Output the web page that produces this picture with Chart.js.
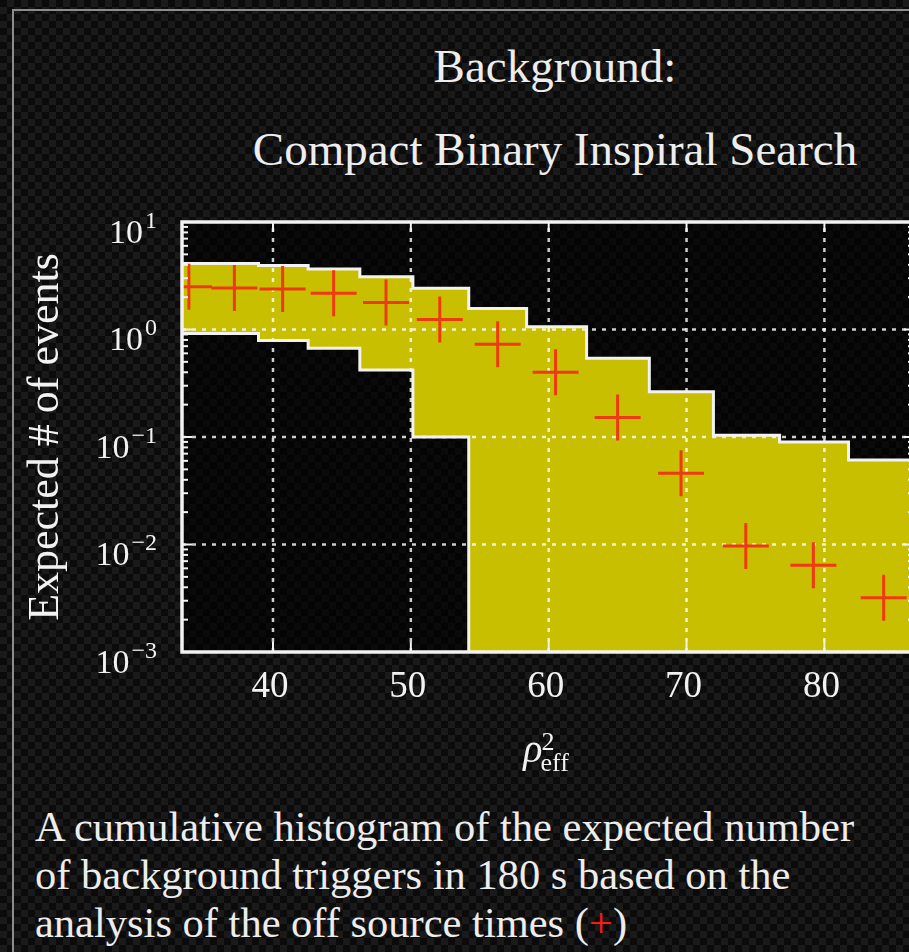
<!DOCTYPE html>
<html>
<head>
<meta charset="utf-8">
<title>Background: Compact Binary Inspiral Search</title>
<script src="https://cdn.jsdelivr.net/npm/chart.js@4.4.1/dist/chart.umd.min.js"></script>
<style>
  html, body { margin: 0; padding: 0; }
  body {
    width: 909px; height: 952px; overflow: hidden; position: relative;
    background-color: #0e0e0e;
    background-image: repeating-conic-gradient(#1a1a1a 0 25%, #0b0b0b 0 50%);
    background-size: 14px 14px;
    font-family: 'Liberation Serif', 'Times New Roman', serif;
    color: #ededed;
  }
  .frame { position: absolute; left: 12px; top: 9px; right: -20px; bottom: -20px; border: 2px solid #8c8c8c; }
  .head { position: absolute; left: 555px; transform: translateX(-50%); white-space: nowrap; font-size: 47px; line-height: 47px; }
  #h1 { top: 43px; }
  #h2 { top: 126px; }
  .caption { position: absolute; left: 35px; top: 803px; font-size: 42.5px; line-height: 48px; white-space: nowrap; }
  .caption .plus { color: #ff1a1a; }
  #wrap { position: absolute; left: 0; top: 0; width: 940px; height: 800px; }
</style>
</head>
<body>
<div class="frame"></div>
<div class="head" id="h1">Background:</div>
<div class="head" id="h2">Compact Binary Inspiral Search</div>
<div id="wrap"><canvas id="chart" width="940" height="800"></canvas></div>
<div class="caption">A cumulative histogram of the expected number<br>of background triggers in 180 s based on the<br>analysis of the off source times (<span class="plus">+</span>)</div>
<script>
// Bin centres in rho_eff^2 and the expected number of background events per bin
const binCentres     = [33.9, 37.2, 40.7, 44.4, 48.2, 52.1, 56.3, 60.5, 65.0, 69.6, 74.3, 79.2, 84.3];
const expectedEvents = [2.50, 2.43, 2.38, 2.17, 1.78, 1.24, 0.73, 0.40, 0.152, 0.046, 0.0097, 0.0064, 0.0032];
// Upper and lower edges of the shaded band (0 = no lower bound)
const bandUpper = [4.11, 4.11, 3.94, 3.66, 3.10, 2.42, 1.57, 1.06, 0.54, 0.264, 0.104, 0.090, 0.061];
const bandLower = [0.92, 0.92, 0.79, 0.67, 0.42, 0.10, 0, 0, 0, 0, 0, 0, 0];
// Axis ticks
const xTickValues = [40, 50, 60, 70, 80];
const yTickValues = [1e-3, 1e-2, 1e-1, 1, 10];
const yTickBase = '10';
const yTickExponents = ['\u22123', '\u22122', '\u22121', '0', '1'];

const X_MIN = 33.4, X_MAX = 86.5, Y_MIN = 1e-3, Y_MAX = 10;
const FLOOR = 1e-6; // stands in for zero on the log axis (below the visible range)

const WHITE = '#f2f2f2';
const SERIF = "'Liberation Serif', 'Times New Roman', serif";

function binEdges(c) {
  const e = [c[0] - (c[1] - c[0]) / 2];
  for (let i = 1; i < c.length; i++) e.push((c[i - 1] + c[i]) / 2);
  const n = c.length;
  e.push(c[n - 1] + (c[n - 1] - c[n - 2]) / 2);
  return e;
}

function stepPoints(values) {
  const e = binEdges(binCentres);
  const pts = values.map((v, i) => ({ x: e[i], y: v > 0 ? v : FLOOR }));
  pts.push({ x: e[e.length - 1], y: pts[pts.length - 1].y });
  return pts;
}

const plotDecor = {
  id: 'plotDecor',
  beforeDraw(chart) {
    const { ctx, chartArea: a } = chart;
    ctx.save();
    ctx.fillStyle = 'rgba(0,0,0,0.6)';
    ctx.fillRect(a.left, a.top, a.right - a.left, a.bottom - a.top);
    ctx.restore();
  },
  beforeDatasetsDraw(chart) {
    // dotted grid, laid over the shaded band
    const { ctx, chartArea: a, scales: { x, y } } = chart;
    ctx.save();
    ctx.beginPath();
    ctx.rect(a.left, a.top, a.right - a.left, a.bottom - a.top);
    ctx.clip();
    ctx.strokeStyle = 'rgba(255,255,255,0.8)';
    ctx.lineWidth = 2.5;
    ctx.setLineDash([4, 6]);
    xTickValues.forEach(v => {
      const px = x.getPixelForValue(v);
      ctx.beginPath(); ctx.moveTo(px, a.bottom); ctx.lineTo(px, a.top); ctx.stroke();
    });
    yTickValues.forEach(v => {
      if (v <= Y_MIN || v >= Y_MAX) return;
      const py = y.getPixelForValue(v);
      ctx.beginPath(); ctx.moveTo(a.left, py); ctx.lineTo(a.right, py); ctx.stroke();
    });
    ctx.restore();
  },
  afterDatasetsDraw(chart) {
    const { ctx, chartArea: a, scales: { x, y } } = chart;
    ctx.save();
    ctx.strokeStyle = WHITE;
    // tick marks pointing into the plot
    ctx.lineWidth = 2;
    const tick = (x0, y0, x1, y1) => { ctx.beginPath(); ctx.moveTo(x0, y0); ctx.lineTo(x1, y1); ctx.stroke(); };
    xTickValues.forEach(v => {
      const px = x.getPixelForValue(v);
      tick(px, a.bottom, px, a.bottom - 10);
      tick(px, a.top, px, a.top + 10);
    });
    for (let k = -3; k <= 0; k++) {
      for (let m = 1; m <= 9; m++) {
        const v = m * Math.pow(10, k);
        const py = y.getPixelForValue(v);
        const len = m === 1 ? 10 : 6;
        tick(a.left, py, a.left + len, py);
        tick(a.right, py, a.right - len, py);
      }
    }
    // plot frame
    ctx.lineWidth = 3.5;
    ctx.beginPath();
    ctx.moveTo(a.right, a.top); ctx.lineTo(a.left, a.top);
    ctx.lineTo(a.left, a.bottom); ctx.lineTo(a.right, a.bottom);
    ctx.lineTo(a.right, a.top);
    ctx.stroke();
    ctx.restore();
  },
  afterDraw(chart) {
    const { ctx, chartArea: a, scales: { y } } = chart;
    ctx.save();
    ctx.fillStyle = WHITE;
    ctx.textBaseline = 'alphabetic';

    // y tick labels: powers of ten with raised exponents
    const fBase = '34px ' + SERIF, fExp = '24px ' + SERIF;
    const right = a.left - 25;
    yTickValues.forEach((v, i) => {
      const py = y.getPixelForValue(v);
      ctx.font = fExp;
      const wExp = ctx.measureText(yTickExponents[i]).width;
      ctx.textAlign = 'left';
      ctx.fillText(yTickExponents[i], right - wExp, py + 5.5);
      ctx.font = fBase;
      ctx.textAlign = 'right';
      ctx.fillText(yTickBase, right - wExp - 2, py + 20.5);
    });

    // x-axis title: rho^2_eff
    ctx.textAlign = 'left';
    const fRho = 'italic 40px ' + SERIF, fSmall = '26px ' + SERIF;
    ctx.font = fRho; const wRho = ctx.measureText('\u03C1').width;
    ctx.font = fSmall; const wEff = ctx.measureText('eff').width;
    const total = wRho + wEff - 2;
    const x0 = (a.left + a.right) / 2 - 2 - total / 2;
    ctx.font = fRho; ctx.fillText('\u03C1', x0, 762);
    ctx.font = fSmall;
    ctx.fillText('2', x0 + wRho - 1, 750);
    ctx.fillText('eff', x0 + wRho - 2, 771);
    ctx.restore();
  }
};

new Chart(document.getElementById('chart'), {
  type: 'line',
  data: {
    datasets: [
      {
        label: 'off-source background',
        data: binCentres.map((c, i) => ({ x: c, y: expectedEvents[i] })),
        showLine: false,
        pointStyle: 'cross',
        pointRadius: 23,
        pointBorderWidth: 3,
        pointBorderColor: '#ee3a12',
        pointBackgroundColor: '#ee3a12',
        clip: 0
      },
      {
        label: 'upper',
        data: stepPoints(bandUpper),
        stepped: true,
        borderColor: WHITE,
        borderWidth: 3,
        pointRadius: 0,
        backgroundColor: '#c8bf00',
        fill: '+1'
      },
      {
        label: 'lower',
        data: stepPoints(bandLower),
        stepped: true,
        borderColor: WHITE,
        borderWidth: 3,
        pointRadius: 0,
        fill: false
      }
    ]
  },
  options: {
    responsive: false,
    animation: false,
    events: [],
    layout: { padding: { left: 0, top: 222, right: 23, bottom: 0 } },
    scales: {
      x: {
        type: 'linear',
        min: X_MIN,
        max: X_MAX,
        grid: { display: false, drawTicks: false },
        border: { display: false },
        afterBuildTicks: s => { s.ticks = xTickValues.map(v => ({ value: v })); },
        afterFit: s => { s.height = 148; },
        ticks: {
          color: WHITE,
          font: { family: SERIF, size: 37 },
          padding: 13,
          labelOffset: -3,
          maxRotation: 0,
          callback: v => String(v)
        }
      },
      y: {
        type: 'logarithmic',
        min: Y_MIN,
        max: Y_MAX,
        grid: { display: false, drawTicks: false },
        border: { display: false },
        afterBuildTicks: s => { s.ticks = yTickValues.map(v => ({ value: v })); },
        afterFit: s => { s.width = 182; },
        ticks: { display: false },
        title: {
          display: true,
          text: 'Expected # of events',
          color: WHITE,
          font: { family: SERIF, size: 44 },
          padding: { top: 20, bottom: 0 }
        }
      }
    },
    plugins: {
      legend: { display: false },
      tooltip: { enabled: false },
      filler: { drawTime: 'beforeDatasetsDraw' }
    }
  },
  plugins: [plotDecor]
});
</script>
</body>
</html>
